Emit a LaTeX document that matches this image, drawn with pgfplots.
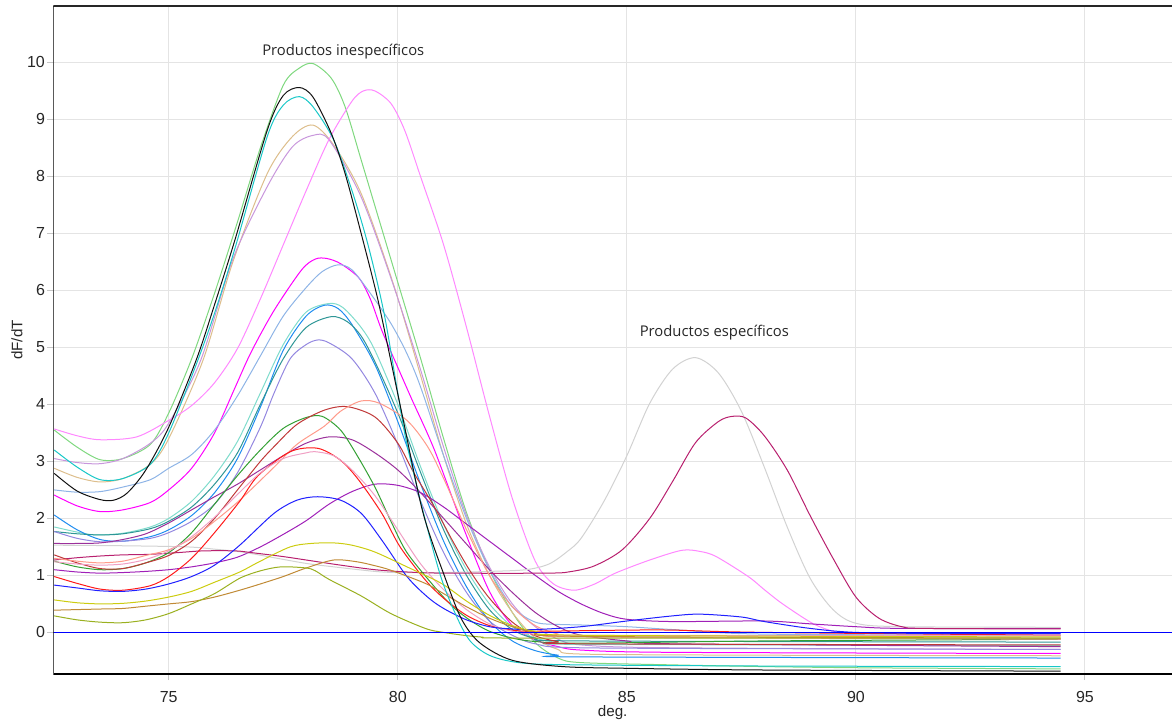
\documentclass[border=0pt]{standalone}
\usepackage{pgfplots}
\pgfplotsset{compat=1.18}
\usepackage{fontspec}
\setmainfont{Liberation Sans}
\newfontfamily\annotfont{Open Sans}
\definecolor{cLgreen}{HTML}{7FD87F}
\definecolor{cBlack}{HTML}{111111}
\definecolor{cCyan}{HTML}{19C8C8}
\definecolor{cTan}{HTML}{DDBE8C}
\definecolor{cPlum}{HTML}{C896DC}
\definecolor{cPink}{HTML}{FF88FF}
\definecolor{cMagenta}{HTML}{FF00FF}
\definecolor{cLsteel}{HTML}{8EB4E6}
\definecolor{cAqua}{HTML}{7FDCCC}
\definecolor{cDodger}{HTML}{1E8CF0}
\definecolor{cTeal}{HTML}{2E9696}
\definecolor{cMpurple}{HTML}{9488E0}
\definecolor{cPurpleA}{HTML}{9B309B}
\definecolor{cPurpleB}{HTML}{A020B8}
\definecolor{cGray}{HTML}{D2D2D2}
\definecolor{cMaroon}{HTML}{B8206E}
\definecolor{cGreen}{HTML}{33A033}
\definecolor{cFire}{HTML}{C03838}
\definecolor{cSalmon}{HTML}{FF9A8A}
\definecolor{cRed}{HTML}{FF1A1A}
\definecolor{cLpink}{HTML}{F0A0C4}
\definecolor{cBlue}{HTML}{2020FF}
\definecolor{cYellow}{HTML}{CCCC10}
\definecolor{cBrown}{HTML}{C08A35}
\definecolor{cOlive}{HTML}{9AB020}
\definecolor{cGrid}{HTML}{E4E4E4}
\begin{document}
\begin{tikzpicture}
\useasboundingbox (-26.65pt,-24.5pt) rectangle (559.35pt,337pt);
\begin{axis}[
  at={(0pt,0pt)}, anchor=south west,
  scale only axis, width=559.35pt, height=334pt,
  xmin=72.48, xmax=96.9, ymin=-0.73, ymax=10.99,
  xtick={75,80,85,90,95}, ytick={0,1,...,10},
  xtick pos=left, ytick pos=left,
  grid=major, major grid style={draw=cGrid, line width=0.5pt},
  axis line style={draw=none},
  tick align=outside, major tick length=3pt,
  tick style={draw=gray!45, line width=0.5pt},
  /pgf/number format/assume math mode=true,
  ticklabel style={font=\fontsize{8}{9.6}\selectfont, text=black!85},
  yticklabel style={inner sep=0pt, xshift=-1pt},
  xticklabel style={inner sep=0pt, yshift=-5.5pt},
  xlabel={deg.}, ylabel={dF/dT},
  label style={font=\fontsize{7.6}{9}\selectfont, text=black!85},
  xlabel style={at={(axis description cs:0.5,0)}, anchor=north, yshift=-15.5pt, inner sep=0pt},
  ylabel style={at={(axis description cs:-0.0325,0.5)}, anchor=center, inner sep=0pt},
  every axis plot/.append style={line width=0.5pt, smooth, tension=0.5},
  clip=true,
]
% light green
\addplot[cLgreen] coordinates {(72.5,3.55)(73,3.25)(73.5,3.03)(74,3.05)(74.6,3.3)(75,3.85)(75.5,4.8)(76,5.95)(76.5,7.2)(77,8.5)(77.5,9.6)(77.85,9.9)(78.15,9.98)(78.55,9.72)(78.85,9.22)(79.2,8.29)(79.55,7.35)(79.9,6.41)(80.5,4.8)(81,3.4)(81.5,2.1)(82,1.1)(82.5,0.35)(83,-0.18)(83.5,-0.45)(84,-0.53)(86,-0.57)(88,-0.6)(90,-0.62)(92,-0.63)(94.47,-0.64)};
% tan
\addplot[cTan] coordinates {(72.5,2.88)(73,2.72)(73.5,2.64)(74,2.7)(74.6,2.95)(75,3.4)(75.75,4.78)(76.4,6.5)(77.15,8.05)(77.7,8.7)(78.15,8.9)(78.6,8.55)(79.2,7.7)(79.9,6.12)(80.5,4.5)(81,3.1)(81.5,1.9)(82,1.0)(82.5,0.35)(83,-0.1)(83.5,-0.3)(84,-0.38)(88,-0.4)(94.47,-0.41)};
% plum
\addplot[cPlum] coordinates {(72.5,3.05)(73,2.98)(73.5,2.96)(74,3.05)(74.6,3.32)(75,3.67)(75.7,4.78)(76.4,6.55)(77.15,7.82)(77.7,8.52)(78.15,8.72)(78.5,8.64)(79.2,7.64)(79.9,6.1)(80.5,4.6)(81,3.25)(81.5,2.05)(82,1.15)(82.5,0.5)(83,0.1)(83.5,-0.12)(84,-0.22)(86,-0.27)(94.47,-0.3)};
% pink
\addplot[cPink] coordinates {(72.5,3.57)(73,3.45)(73.5,3.38)(74.3,3.43)(75,3.72)(75.5,3.98)(76,4.38)(76.5,4.98)(77,5.85)(77.5,6.8)(78,7.75)(78.5,8.65)(79,9.32)(79.25,9.5)(79.5,9.5)(79.85,9.28)(80.15,8.81)(80.5,7.99)(81,6.8)(81.5,5.35)(82,3.8)(82.5,2.35)(83,1.25)(83.4,0.85)(83.85,0.74)(84.3,0.85)(84.75,1.04)(85.5,1.27)(86.2,1.44)(86.6,1.42)(86.95,1.33)(87.65,0.98)(88,0.75)(88.4,0.5)(89.05,0.16)(89.5,0.02)(90,-0.06)(91,-0.1)(94.47,-0.12)};
% magenta
\addplot[cMagenta] coordinates {(72.5,2.41)(73,2.22)(73.5,2.12)(74,2.15)(74.6,2.28)(75,2.5)(75.5,2.88)(76,3.5)(76.45,4.3)(76.8,4.92)(77.3,5.65)(77.9,6.36)(78.2,6.55)(78.45,6.56)(78.75,6.47)(79.15,6.22)(79.4,5.85)(79.65,5.3)(80,4.65)(80.3,4.1)(80.8,3.2)(81.45,1.8)(82,0.72)(82.5,0.12)(83,-0.13)(83.5,-0.25)(84,-0.31)(86,-0.35)(94.47,-0.37)};
% light steel blue
\addplot[cLsteel] coordinates {(72.5,2.5)(73,2.46)(73.5,2.47)(74,2.55)(74.6,2.68)(75,2.88)(75.5,3.12)(76,3.55)(76.5,4.15)(77,4.85)(77.5,5.55)(78,6.05)(78.35,6.33)(78.7,6.45)(79,6.36)(79.4,5.95)(79.85,5.42)(80.2,4.89)(80.5,4.3)(81,3.1)(81.5,2.0)(82,1.1)(82.5,0.45)(83,0.18)(83.5,0.14)(84,0.13)(85,0.1)(86,0.05)(88,-0.03)(94.47,-0.05)};
% aquamarine
\addplot[cAqua] coordinates {(72.5,1.85)(73,1.76)(73.4,1.71)(74,1.74)(74.6,1.85)(75,2.0)(75.5,2.3)(76,2.75)(76.5,3.35)(77,4.2)(77.5,5.05)(78,5.62)(78.5,5.77)(78.8,5.7)(79.2,5.35)(79.5,4.95)(80,4.0)(80.5,2.9)(81,1.9)(81.5,1.1)(82,0.5)(82.5,0.1)(83,-0.1)(83.5,-0.18)(84,-0.21)(94.47,-0.23)};
% dodger blue
\addplot[cDodger] coordinates {(72.5,2.06)(73,1.8)(73.5,1.63)(74,1.6)(74.6,1.68)(75,1.8)(75.5,2.05)(76,2.45)(76.5,3.05)(77,3.95)(77.5,4.95)(78,5.55)(78.4,5.74)(78.7,5.68)(79,5.4)(79.5,4.7)(80,3.7)(80.5,2.6)(81,1.6)(81.5,0.8)(82,0.2)(82.5,-0.15)(83,-0.32)(83.5,-0.4)(84,-0.43)(94.47,-0.45)};
% teal
\addplot[cTeal] coordinates {(72.5,1.77)(73,1.73)(73.5,1.71)(74,1.73)(74.6,1.82)(75,1.95)(75.5,2.2)(76,2.6)(76.5,3.15)(77,4.0)(77.5,4.8)(78,5.35)(78.55,5.54)(78.9,5.45)(79.2,5.2)(79.5,4.75)(80,3.85)(80.5,2.8)(81,1.8)(81.5,1.0)(82,0.4)(82.5,0.05)(83,-0.1)(84,-0.15)(94.47,-0.17)};
% medium purple
\addplot[cMpurple] coordinates {(72.5,1.77)(73,1.65)(73.5,1.59)(74,1.6)(74.6,1.65)(75,1.75)(75.5,1.95)(76,2.25)(76.5,2.8)(77,3.6)(77.3,4.2)(77.65,4.8)(78,5.05)(78.25,5.13)(78.5,5.08)(79,4.8)(79.5,4.2)(80,3.3)(80.5,2.3)(81,1.4)(81.5,0.7)(82,0.2)(82.5,-0.05)(83,-0.2)(84,-0.27)(90,-0.29)(94.47,-0.3)};
% purple (peak 3.4)
\addplot[cPurpleA] coordinates {(72.5,1.56)(73,1.56)(73.5,1.57)(74,1.63)(74.5,1.73)(75,1.92)(75.5,2.15)(76,2.38)(76.5,2.6)(77,2.85)(77.5,3.1)(78,3.32)(78.5,3.43)(79,3.38)(79.5,3.15)(80,2.85)(80.5,2.45)(81,2.0)(81.5,1.55)(82,1.1)(82.5,0.7)(83,0.35)(83.5,0.1)(84,-0.05)(85,-0.15)(86,-0.2)(94.47,-0.25)};
% purple (peak 2.6)
\addplot[cPurpleB] coordinates {(72.5,1.1)(73,1.06)(73.5,1.04)(74,1.05)(74.5,1.07)(75,1.1)(75.5,1.15)(76,1.22)(76.5,1.32)(77,1.5)(77.5,1.72)(78,1.96)(78.5,2.25)(79,2.47)(79.5,2.6)(80,2.58)(80.5,2.45)(81,2.2)(81.5,1.9)(82,1.6)(82.5,1.3)(83,1.0)(83.5,0.72)(84,0.5)(84.5,0.33)(85,0.23)(86,0.19)(88,0.2)(89,0.15)(90,0.1)(91,0.07)(94.47,0.07)};
% gray (specific product)
\addplot[cGray] coordinates {(72.5,1.53)(74,1.52)(75.4,1.5)(76,1.46)(76.6,1.41)(77.3,1.31)(78,1.21)(78.6,1.15)(79.5,1.07)(80,1.05)(81,1.05)(82,1.07)(82.8,1.1)(83.3,1.2)(83.7,1.42)(84,1.65)(84.5,2.3)(85,3.1)(85.5,4.02)(86,4.62)(86.5,4.82)(87,4.55)(87.5,3.88)(88,2.9)(88.5,1.85)(89,0.95)(89.5,0.4)(90,0.16)(91,0.1)(94.47,0.09)};
% maroon (specific product)
\addplot[cMaroon] coordinates {(72.5,1.27)(73,1.31)(73.5,1.34)(74,1.36)(74.6,1.37)(75.2,1.4)(75.75,1.43)(76.45,1.43)(76.8,1.4)(77.5,1.33)(78,1.27)(78.75,1.18)(79.5,1.1)(80.2,1.06)(81,1.04)(83.3,1.04)(83.8,1.07)(84.3,1.17)(84.9,1.45)(85.5,2.0)(86,2.65)(86.5,3.33)(87,3.7)(87.3,3.79)(87.6,3.76)(88,3.45)(88.5,2.85)(89,2.05)(89.5,1.3)(90,0.62)(90.5,0.25)(91,0.1)(91.5,0.07)(94.47,0.06)};
% green
\addplot[cGreen] coordinates {(72.5,1.25)(73,1.15)(73.5,1.1)(74,1.12)(74.5,1.22)(75,1.4)(75.5,1.75)(76,2.25)(76.5,2.75)(77,3.2)(77.5,3.58)(78,3.77)(78.35,3.79)(78.75,3.55)(79.1,3.12)(79.5,2.55)(79.85,1.95)(80.2,1.4)(80.8,0.8)(81.2,0.45)(81.6,0.2)(82,0.02)(82.5,-0.1)(83,-0.16)(84,-0.19)(88,-0.15)(94.47,-0.12)};
% firebrick
\addplot[cFire] coordinates {(72.5,1.36)(73,1.22)(73.5,1.12)(74,1.12)(74.5,1.22)(75,1.35)(75.5,1.6)(76,2.0)(76.55,2.55)(77,3.0)(77.3,3.26)(77.8,3.65)(78.4,3.9)(78.9,3.96)(79.5,3.78)(80,3.32)(80.35,2.8)(80.8,2.2)(81.2,1.6)(81.6,1.05)(82,0.6)(82.5,0.18)(83,-0.06)(83.5,-0.16)(84,-0.2)(94.47,-0.22)};
% salmon
\addplot[cSalmon] coordinates {(72.5,1.3)(73,1.25)(73.5,1.22)(74,1.25)(74.5,1.35)(75,1.45)(75.5,1.65)(76,1.95)(76.55,2.32)(77.3,2.9)(77.8,3.3)(78.4,3.62)(78.75,3.88)(79.2,4.06)(79.6,4.02)(80.2,3.72)(80.65,3.26)(81,2.7)(81.5,1.8)(82,1.0)(82.5,0.45)(83,0.12)(83.5,-0.03)(84,-0.08)(94.47,-0.12)};
% red
\addplot[cRed] coordinates {(72.5,0.98)(73,0.86)(73.5,0.76)(74,0.74)(74.6,0.82)(75,0.98)(75.5,1.3)(76,1.75)(76.55,2.3)(76.95,2.75)(77.65,3.17)(78.25,3.23)(78.75,3.02)(79.15,2.67)(79.65,2.09)(80.05,1.5)(80.6,0.92)(81,0.6)(81.5,0.3)(82,0.12)(82.5,0.04)(83,0.02)(85,0.04)(86,0.04)(88,0.0)(94.47,-0.05)};
% light pink
\addplot[cLpink] coordinates {(72.5,1.24)(73,1.2)(73.5,1.18)(74,1.2)(74.5,1.28)(75,1.43)(75.5,1.68)(76,2.02)(76.5,2.42)(77,2.8)(77.5,3.05)(78,3.15)(78.2,3.17)(78.6,3.1)(79,2.85)(79.5,2.4)(80,1.8)(80.5,1.2)(81,0.75)(81.5,0.4)(82,0.15)(82.5,0.02)(83,-0.03)(84,-0.05)(94.47,-0.06)};
% blue
\addplot[cBlue] coordinates {(72.5,0.83)(73,0.78)(73.5,0.73)(74,0.72)(74.5,0.76)(75,0.85)(75.5,0.98)(76,1.18)(76.55,1.53)(77.3,2.09)(77.8,2.32)(78.25,2.38)(78.75,2.32)(79.2,2.09)(79.65,1.62)(80.2,0.98)(80.65,0.62)(81,0.42)(81.5,0.22)(82,0.1)(82.5,0.06)(83,0.05)(84,0.1)(85,0.2)(86,0.29)(86.6,0.32)(87.5,0.27)(88,0.19)(89,0.07)(90,0.0)(92,-0.02)(94.47,-0.02)};
% yellow
\addplot[cYellow] coordinates {(72.5,0.57)(73,0.52)(73.5,0.5)(74,0.51)(74.5,0.55)(75,0.62)(75.5,0.72)(76,0.88)(76.55,1.06)(77,1.25)(77.65,1.5)(78.1,1.56)(78.6,1.57)(79,1.53)(79.5,1.41)(80.2,1.15)(80.95,0.86)(81.5,0.55)(82,0.3)(82.5,0.12)(83,0.02)(84,-0.05)(94.47,-0.08)};
% brown
\addplot[cBrown] coordinates {(72.5,0.39)(73,0.4)(73.5,0.41)(74,0.42)(74.5,0.46)(75,0.5)(75.5,0.54)(76,0.62)(76.55,0.74)(77,0.85)(77.5,0.98)(78,1.13)(78.6,1.27)(79.1,1.24)(79.5,1.17)(79.85,1.09)(80.6,0.86)(81,0.68)(81.5,0.45)(82,0.25)(82.5,0.1)(83,0.0)(84,-0.07)(94.47,-0.1)};
% olive
\addplot[cOlive] coordinates {(72.5,0.29)(73,0.22)(73.5,0.18)(74,0.17)(74.5,0.22)(75,0.33)(75.5,0.5)(76,0.68)(76.55,0.95)(77,1.08)(77.45,1.15)(78,1.13)(78.2,1.08)(78.5,0.93)(79.2,0.64)(79.85,0.33)(80.6,0.07)(81,0.0)(81.8,-0.08)(83,-0.1)(94.47,-0.1)};
% cyan
\addplot[cCyan] coordinates {(72.5,3.2)(73,2.9)(73.5,2.68)(74,2.7)(74.6,2.95)(75,3.5)(75.6,4.7)(76,5.6)(76.45,6.75)(77.15,8.7)(77.5,9.25)(77.85,9.4)(78.15,9.22)(78.6,8.64)(79,7.75)(79.35,6.8)(79.7,5.6)(80,4.2)(80.2,3.3)(80.6,1.97)(80.95,0.95)(81.3,0.25)(81.6,-0.17)(82.05,-0.42)(82.75,-0.54)(84,-0.57)(88,-0.59)(94.47,-0.6)};
% black
\addplot[cBlack] coordinates {(72.5,2.79)(73,2.48)(73.5,2.33)(73.8,2.32)(74.1,2.45)(74.5,2.85)(75,3.6)(75.6,4.78)(76,5.75)(76.45,6.9)(77.15,8.81)(77.5,9.42)(77.85,9.56)(78.15,9.39)(78.55,8.75)(78.85,8.05)(79.2,7.0)(79.55,5.89)(79.8,4.95)(80.1,3.8)(80.55,2.1)(81.05,0.92)(81.4,0.22)(81.8,-0.19)(82.5,-0.49)(83.6,-0.6)(85,-0.63)(88,-0.66)(94.47,-0.68)};
% zero line
\addplot[blue, line width=0.75pt, sharp plot] coordinates {(72.48,0)(96.9,0)};
% annotations
\node[font=\annotfont\fontsize{7.4}{8.8}\selectfont, text=black!85, anchor=base, inner sep=0pt] at (axis cs:78.81,10.12) {Productos inespecíficos};
\node[font=\annotfont\fontsize{7.4}{8.8}\selectfont, text=black!85, anchor=base, inner sep=0pt] at (axis cs:86.91,5.19) {Productos específicos};
% spines
\draw[black!85, line width=0.7pt] (rel axis cs:0,1) -- (rel axis cs:1,1);
\draw[black, line width=1pt] (rel axis cs:0,1) -- (rel axis cs:0,0) -- (rel axis cs:1,0);
\end{axis}
\end{tikzpicture}
\end{document}
